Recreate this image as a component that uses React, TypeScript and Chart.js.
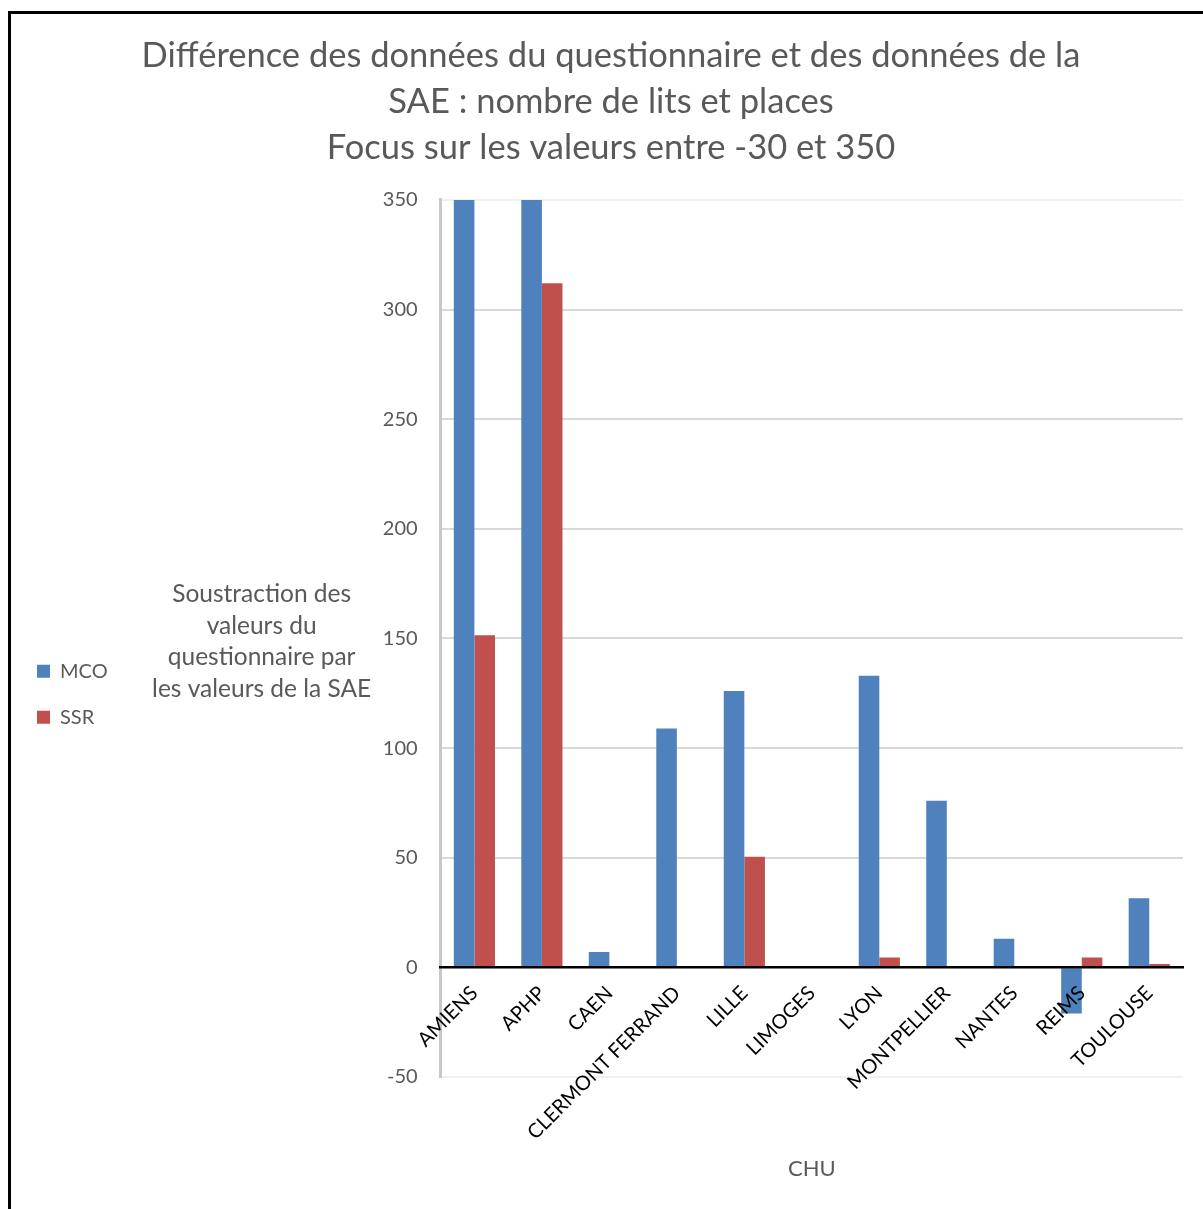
import React, { useEffect, useRef } from "react";
import { Chart, registerables } from "chart.js";

Chart.register(...registerables);

const categories = [
  "AMIENS",
  "APHP",
  "CAEN",
  "CLERMONT FERRAND",
  "LILLE",
  "LIMOGES",
  "LYON",
  "MONTPELLIER",
  "NANTES",
  "REIMS",
  "TOULOUSE",
];
// AMIENS and APHP MCO exceed the 350 focus limit (clipped in the picture)
const mcoValues = [420, 460, 7, 109, 126, null, 133, 76, 13, -21, 31.5];
const ssrValues = [151.5, 312, null, null, 50.5, null, 4.5, null, null, 4.5, 1.5];

const titleLines = [
  "Différence des données du questionnaire et des données de la",
  "SAE : nombre de lits et places",
  "Focus sur les valeurs entre -30 et 350",
];
const yTitleLines = [
  "Soustraction des",
  "valeurs du",
  "questionnaire par",
  "les valeurs de la SAE",
];
const xTitle = "CHU";
const yMin = -50;
const yMax = 350;
const yStep = 50;

const FONT = "Lato, 'Open Sans', sans-serif";
const GREY = "#595959";

const yTitlePlugin = {
  id: "yTitleHorizontal",
  afterDraw(chart: any) {
    const { ctx, chartArea } = chart;
    ctx.save();
    ctx.font = `24.5px ${FONT}`;
    ctx.fillStyle = GREY;
    ctx.textAlign = "center";
    ctx.textBaseline = "middle";
    const lh = 31.7;
    const cx = chartArea.left - 179;
    const cy = (chartArea.top + chartArea.bottom) / 2 + 3;
    const start = cy - ((yTitleLines.length - 1) * lh) / 2;
    yTitleLines.forEach((t, i) => ctx.fillText(t, cx, start + i * lh));
    ctx.restore();
  },
};

export default function App() {
  const ref = useRef<HTMLCanvasElement | null>(null);
  useEffect(() => {
    if (!ref.current) return;
    const chart = new Chart(ref.current, {
      type: "bar",
      data: {
        labels: categories,
        datasets: [
          {
            label: "MCO",
            data: mcoValues as any,
            backgroundColor: "#4f81bd",
            borderWidth: 0,
          },
          {
            label: "SSR",
            data: ssrValues as any,
            backgroundColor: "#c0504d",
            borderWidth: 0,
          },
        ],
      },
      options: {
        animation: false,
        responsive: false,
        maintainAspectRatio: false,
        datasets: { bar: { barPercentage: 1, categoryPercentage: 0.61 } },
        layout: { padding: { left: 11, right: 11, top: 33, bottom: 132 } },
        plugins: {
          title: {
            display: true,
            text: titleLines,
            color: GREY,
            font: { family: FONT, size: 34.5, weight: "normal", lineHeight: 1.3333 },
            padding: { top: 0, bottom: 29 },
          },
          legend: {
            position: "left",
            title: { display: true, text: "", padding: { top: 264, bottom: 0 } },
            labels: {
              color: GREY,
              font: { family: FONT, size: 20 },
              boxWidth: 13,
              boxHeight: 13,
              padding: 26,
            },
          },
          tooltip: { enabled: false },
        },
        scales: {
          y: {
            min: yMin,
            max: yMax,
            ticks: {
              stepSize: yStep,
              color: GREY,
              font: { family: FONT, size: 20 },
              padding: 23,
            },
            grid: {
              color: (c: any) =>
                c.tick && (c.tick.value === yMax || c.tick.value === yMin) ? "#f0f0f0" : "#d9d9d9",
              lineWidth: 2,
              drawTicks: false,
            },
            border: { color: "#c8c8c8", width: 3 },
            afterFit: (scale: any) => {
              scale.width = 323;
            },
          },
          yRight: {
            position: "right",
            display: true,
            ticks: { display: false },
            grid: { display: false, drawTicks: false },
            border: { display: false },
            afterFit: (scale: any) => {
              scale.width = 28;
            },
          },
          x: {
            position: { y: 0 } as any,
            grid: { display: false, drawTicks: false },
            border: { color: "#000000", width: 2.5, z: 1 },
            ticks: {
              z: 1,
              color: "#000000",
              font: { family: FONT, size: 20 },
              minRotation: 45,
              maxRotation: 45,
              autoSkip: false,
              padding: 14,
            },
            title: {
              display: true,
              text: xTitle,
              color: GREY,
              font: { family: FONT, size: 22 },
              padding: { top: -3, bottom: 0 },
            },
          },
        },
      },
      plugins: [yTitlePlugin],
    });
    return () => chart.destroy();
  }, []);

  return (
    <div
      style={{
        position: "absolute",
        left: 0,
        top: 0,
        width: 1203,
        height: 1209,
        overflow: "hidden",
        background: "#ffffff",
      }}
    >
      <canvas ref={ref} width={1222} height={1209} style={{ position: "absolute", left: 0, top: 0 }} />
      <div
        style={{
          position: "absolute",
          left: 8,
          top: 11,
          width: 1300,
          height: 1300,
          borderLeft: "3px solid #000",
          borderTop: "3px solid #000",
          pointerEvents: "none",
        }}
      />
    </div>
  );
}
